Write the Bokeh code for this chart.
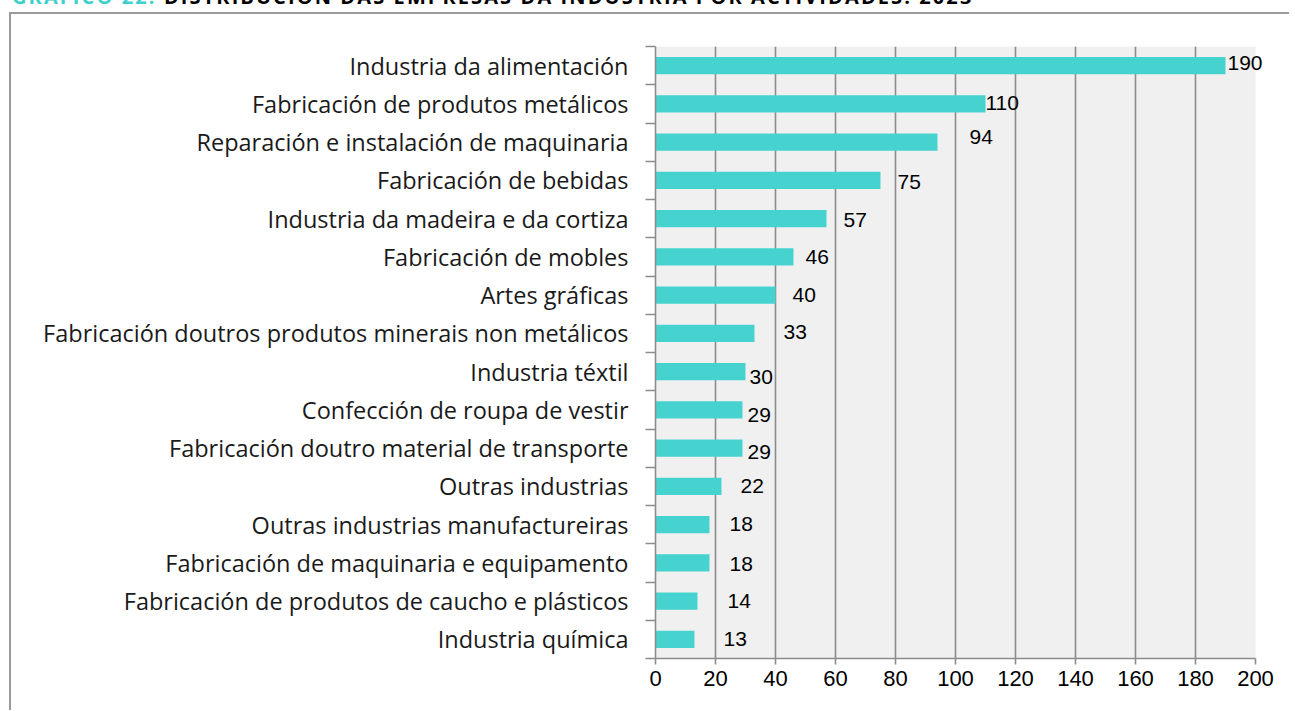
from bokeh.plotting import figure
from bokeh.layouts import column
from bokeh.models import Range1d, FixedTicker, LabelSet, ColumnDataSource, Div
from bokeh.core.properties import value
from bokeh.embed import file_html
from bokeh.resources import INLINE

# ---- data ----
categories = [
    "Industria da alimentación",
    "Fabricación de produtos metálicos",
    "Reparación e instalación de maquinaria",
    "Fabricación de bebidas",
    "Industria da madeira e da cortiza",
    "Fabricación de mobles",
    "Artes gráficas",
    "Fabricación doutros produtos minerais non metálicos",
    "Industria téxtil",
    "Confección de roupa de vestir",
    "Fabricación doutro material de transporte",
    "Outras industrias",
    "Outras industrias manufactureiras",
    "Fabricación de maquinaria e equipamento",
    "Fabricación de produtos de caucho e plásticos",
    "Industria química",
]
values = [190, 110, 94, 75, 57, 46, 40, 33, 30, 29, 29, 22, 18, 18, 14, 13]
x_ticks = [0, 20, 40, 60, 80, 100, 120, 140, 160, 180, 200]
title_num = "GRÁFICO 22."
title_text = "DISTRIBUCIÓN DAS EMPRESAS DA INDUSTRIA POR ACTIVIDADES. 2023"

# label nudges in pixels (style only, as placed in the original)
label_dx = [2, 0, 32, 17, 17, 12, 17, 29, 4, 5, 5, 19, 20, 20, 30, 29]
label_dy = [-3, -1, -5, 2, 1, 0, 0, -1, 5, 5, 4, 0, -1, 1, 0, 0]

n = len(categories)
pos = [n - i - 0.5 for i in range(n)]
xmin, xmax = x_ticks[0], x_ticks[-1]

src = ColumnDataSource(dict(
    cat=categories, val=values, pos=pos,
    lbl=[str(v) for v in values],
    dx=label_dx, dy=[-d for d in label_dy],
))

BAR = "#46D3CF"
GRID = "#8C8C8C"
BORDER = "#9A9A9A"

title = Div(
    text=f'<span style="color:#3FCFCC">{title_num}</span> {title_text}',
    width=1150, height=20,
    styles={"font-family": "'Open Sans', sans-serif", "font-weight": "bold",
            "font-size": "20px", "line-height": "20px", "white-space": "nowrap",
            "letter-spacing": "2.1px",
            "margin-top": "-13px", "margin-left": "12px", "color": "black"},
)

p = figure(width=1280, height=698, output_backend="svg", toolbar_location=None,
           x_range=Range1d(xmin, 207), y_range=Range1d(0, n))
p.styles = {"margin-top": "0px", "margin-left": "9px",
            "border-top": f"2px solid {BORDER}", "border-left": f"2px solid {BORDER}"}
p.min_border_left = 644
p.min_border_right = 15
p.min_border_top = 32
p.min_border_bottom = 54
p.background_fill_color = "white"
p.border_fill_color = "white"
p.outline_line_color = None

# plot-area background (0..200)
p.quad(left=xmin, right=xmax, bottom=0, top=n, fill_color="#F0F0F0",
       line_color=None, level="image")

p.hbar(y="pos", right="val", left=0, height=0.45, source=src,
       fill_color=BAR, line_color=None)

# grid
p.ygrid.grid_line_color = None
p.xgrid.ticker = FixedTicker(ticks=x_ticks[1:-1])
p.xgrid.grid_line_color = GRID
p.xgrid.grid_line_width = 1.6

# x axis
xa = p.xaxis[0]
xa.ticker = FixedTicker(ticks=x_ticks)
xa.bounds = (xmin, xmax)
xa.axis_line_color = GRID
xa.axis_line_width = 1.6
xa.major_tick_line_color = GRID
xa.major_tick_line_width = 1.6
xa.major_tick_in = 0
xa.major_tick_out = 6
xa.minor_tick_line_color = None
xa.major_label_text_font = "Liberation Sans"
xa.major_label_text_font_size = "22px"
xa.major_label_text_color = "black"
xa.major_label_standoff = 6

# y axis
ya = p.yaxis[0]
ya.ticker = FixedTicker(ticks=pos, minor_ticks=list(range(n + 1)))
ya.major_label_overrides = {pp: c for pp, c in zip(pos, categories)}
ya.axis_line_color = GRID
ya.axis_line_width = 1.6
ya.major_tick_line_color = None
ya.major_tick_in = 0
ya.major_tick_out = 0
ya.minor_tick_line_color = GRID
ya.minor_tick_line_width = 1.6
ya.minor_tick_in = 0
ya.minor_tick_out = 10
ya.major_label_text_font = "Open Sans"
ya.major_label_text_font_size = "23.5px"
ya.major_label_text_color = "#1a1a1a"
ya.major_label_standoff = 17

# value labels
p.add_layout(LabelSet(x="val", y="pos", text="lbl", source=src,
                      x_offset="dx", y_offset="dy",
                      text_font=value("Liberation Sans"), text_font_size=value("21px"),
                      text_color="black", text_align="left", text_baseline="middle"))

layout = column(title, p, spacing=0)
open("out.html", "w").write(file_html(layout, INLINE))
